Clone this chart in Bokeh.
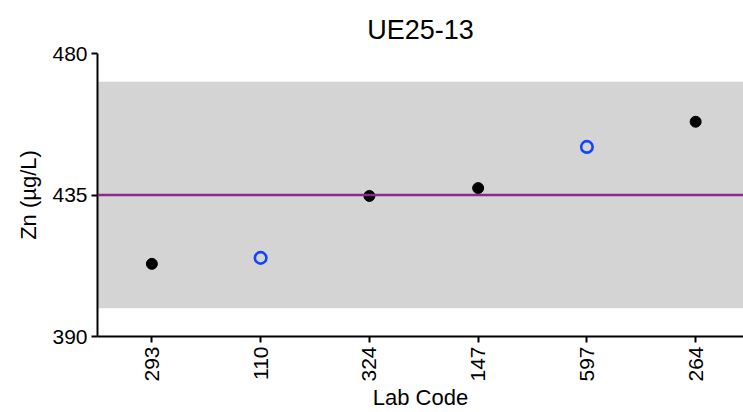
import math
from bokeh.plotting import figure
from bokeh.models import Range1d, FixedTicker, BoxAnnotation, Span, ColumnDataSource
from bokeh.embed import file_html
from bokeh.resources import INLINE

title_text = "UE25-13"
lab_codes = ["293", "110", "324", "147", "597", "264"]
zn_values = [413.1, 415.0, 434.7, 437.2, 450.3, 458.3]
open_marker = [False, True, False, False, True, False]
assigned_value = 435.0
band_low = 399.0
band_high = 471.0
y_ticks = [390, 435, 480]
y_min, y_max = 390, 480

FONT = "Liberation Sans"

p = figure(width=743, height=412, output_backend="svg", toolbar_location=None,
           x_range=Range1d(-0.5, 5.44), y_range=Range1d(y_min, y_max),
           min_border_left=97, min_border_right=0, min_border_top=53, min_border_bottom=76,
           title=title_text)
p.outline_line_color = None
p.background_fill_color = "white"
p.border_fill_color = "white"
p.xgrid.visible = False
p.ygrid.visible = False

p.title.align = "center"
p.title.text_font = FONT
p.title.text_font_size = "27px"
p.title.text_font_style = "normal"
p.title.text_color = "black"
p.title.standoff = 18

band = BoxAnnotation(bottom=band_low, top=band_high, fill_color="#d4d4d4", fill_alpha=1.0, line_color=None, level="underlay")
p.add_layout(band)
p.add_layout(Span(location=assigned_value, dimension="width", line_color="#8B2A8B", line_width=2.5))

xs = list(range(len(lab_codes)))
closed = ColumnDataSource(dict(x=[x for x, o in zip(xs, open_marker) if not o],
                               y=[v for v, o in zip(zn_values, open_marker) if not o]))
opened = ColumnDataSource(dict(x=[x for x, o in zip(xs, open_marker) if o],
                               y=[v for v, o in zip(zn_values, open_marker) if o]))
p.scatter("x", "y", source=closed, size=11, fill_color="black", line_color="black", line_width=1)
p.scatter("x", "y", source=opened, size=11.5, fill_color=None, line_color="#1443ff", line_width=2.6)

for ax in (p.xaxis[0], p.yaxis[0]):
    ax.axis_line_width = 2
    ax.axis_line_color = "black"
    ax.major_tick_line_width = 2
    ax.major_tick_line_color = "black"
    ax.major_tick_out = 6
    ax.major_tick_in = 0
    ax.minor_tick_line_color = None
    ax.major_label_text_font = FONT
    ax.major_label_text_font_size = "21px"
    ax.major_label_text_color = "black"
    ax.axis_label_text_font = FONT
    ax.axis_label_text_font_size = "22px"
    ax.axis_label_text_font_style = "normal"
    ax.axis_label_text_color = "black"

p.xaxis.ticker = FixedTicker(ticks=xs)
p.xaxis.major_label_overrides = {i: c for i, c in enumerate(lab_codes)}
p.xaxis.major_label_orientation = math.pi / 2
p.xaxis.axis_label = "Lab Code"
p.xaxis.axis_label_standoff = 0
p.xaxis.major_label_standoff = 4

p.yaxis.ticker = FixedTicker(ticks=y_ticks)
p.yaxis.axis_label = "Zn (µg/L)"
p.yaxis.major_label_standoff = 4
p.yaxis.axis_label_standoff = 8

open("out.html", "w").write(file_html(p, INLINE))
